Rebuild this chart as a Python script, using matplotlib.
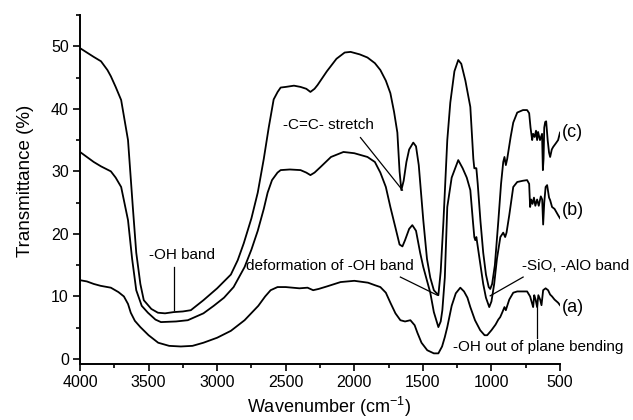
import numpy as np
import matplotlib.pyplot as plt
from matplotlib.ticker import MultipleLocator

plt.rcParams['font.family'] = ['Liberation Sans', 'DejaVu Sans']

# FTIR spectra (wavenumber in cm^-1, transmittance in %)
wn_a = [4000, 3950, 3900, 3850, 3775, 3720, 3680, 3650, 3630, 3600, 3560, 3500, 3430, 3350, 3265,
        3180, 3100, 3000, 2900, 2800, 2700, 2650, 2610, 2560, 2500, 2400, 2341, 2300, 2260, 2200,
        2100, 2000, 1900, 1850, 1810, 1770, 1737, 1700, 1664, 1630, 1591, 1560, 1540, 1510, 1468,
        1420, 1387, 1360, 1340, 1322, 1290, 1260, 1227, 1200, 1175, 1154, 1120, 1082, 1050, 1031,
        1000, 970, 950, 936, 920, 905, 895, 885, 870, 841, 812, 780, 740, 718, 705, 696, 688, 678,
        667, 658, 645, 635, 623, 605, 587, 572, 558, 540, 514, 500]
t_a = [12.6, 12.4, 12.0, 11.7, 11.4, 10.7, 10.0, 8.8, 7.4, 6.1, 5.1, 3.8, 2.6, 2.1, 2.0,
       2.1, 2.6, 3.4, 4.5, 6.2, 8.5, 10.0, 11.0, 11.5, 11.5, 11.3, 11.4, 11.0, 11.2, 11.6,
       12.3, 12.5, 12.2, 11.8, 11.5, 10.6, 9.0, 7.3, 6.2, 6.0, 6.2, 5.4, 4.2, 2.6, 1.4,
       0.9, 0.9, 2.0, 3.5, 5.1, 8.5, 10.5, 11.4, 10.8, 9.8, 8.3, 6.2, 4.6, 3.8, 3.8,
       4.6, 5.5, 6.3, 6.7, 7.5, 8.3, 7.8, 8.5, 9.5, 10.6, 10.8, 10.8, 10.8, 10.0, 9.0, 8.3, 10.2, 9.5,
       8.3, 10.2, 9.5, 8.6, 11.0, 11.3, 11.0, 10.3, 10.0, 9.5, 9.0, 8.6]

wn_b = [4000, 3950, 3900, 3847, 3775, 3740, 3700, 3650, 3620, 3590, 3550, 3505, 3450, 3410, 3300,
        3214, 3100, 3025, 2950, 2880, 2800, 2750, 2704, 2660, 2632, 2600, 2560, 2537, 2470, 2392,
        2350, 2320, 2290, 2246, 2170, 2079, 2000, 1904, 1850, 1810, 1770, 1737, 1700, 1670, 1649,
        1630, 1600, 1577, 1550, 1520, 1497, 1446, 1420, 1387, 1370, 1358, 1340, 1322, 1290, 1242,
        1210, 1180, 1154, 1135, 1125, 1118, 1110, 1100, 1080, 1060, 1040, 1016, 1000, 980, 960,
        935, 914, 900, 890, 870, 841, 812, 770, 740, 725, 718, 710, 700, 690, 680, 667, 655, 640,
        630, 623, 615, 605, 594, 580, 572, 558, 540, 514, 500]
t_b = [33.1, 32.3, 31.5, 30.8, 30.0, 29.0, 27.5, 22.2, 16.0, 11.0, 8.5, 7.4, 6.3, 5.9, 6.0,
       6.2, 7.3, 8.5, 9.8, 11.5, 14.7, 17.5, 20.5, 24.0, 26.6, 28.6, 29.8, 30.2, 30.3, 30.2,
       29.8, 29.4, 29.8, 30.7, 32.3, 33.1, 32.9, 32.3, 31.5, 29.8, 27.5, 24.3, 21.0, 18.3, 18.0,
       19.0, 20.8, 21.4, 20.5, 17.0, 14.7, 10.6, 7.5, 5.1, 6.0, 7.8, 13.0, 24.3, 29.0, 31.8,
       30.5, 29.0, 27.0, 22.0, 19.5, 19.0, 19.5, 18.0, 15.0, 12.0, 9.8, 8.3, 9.2, 12.0, 16.0,
       19.5, 20.2, 19.5, 20.2, 23.0, 27.5, 28.3, 28.5, 28.6, 28.0, 24.3, 25.5, 24.8, 25.8, 24.5, 25.5, 24.5, 26.0,
       25.5, 21.5, 25.0, 27.5, 27.8, 25.8, 25.4, 24.3, 24.0, 23.0, 22.5]

wn_c = [4000, 3950, 3900, 3847, 3800, 3775, 3740, 3700, 3650, 3615, 3590, 3560, 3535, 3480, 3432,
        3380, 3316, 3250, 3192, 3100, 3000, 2900, 2850, 2806, 2750, 2704, 2660, 2624, 2600, 2588,
        2559, 2537, 2500, 2440, 2392, 2350, 2320, 2290, 2268, 2200, 2130, 2070, 2027, 1960, 1904,
        1850, 1810, 1770, 1737, 1710, 1686, 1670, 1657, 1640, 1620, 1600, 1570, 1550, 1530, 1497,
        1470, 1446, 1420, 1387, 1370, 1350, 1322, 1300, 1270, 1242, 1220, 1190, 1154, 1132, 1125,
        1118, 1110, 1100, 1080, 1060, 1040, 1020, 1009, 995, 975, 950, 930, 914, 905, 895, 885,
        860, 841, 812, 770, 740, 725, 715, 703, 696, 685, 675, 667, 660, 646, 631, 625, 620, 615,
        608, 601, 590, 580, 572, 560, 550, 530, 514, 500]
t_c = [49.7, 49.0, 48.3, 47.6, 46.2, 45.2, 43.5, 41.4, 35.0, 24.3, 17.0, 12.0, 9.4, 8.0, 7.4,
       7.3, 7.5, 7.6, 7.8, 9.4, 11.3, 13.5, 15.8, 18.5, 22.5, 26.6, 32.0, 37.0, 40.0, 41.5,
       42.7, 43.4, 43.5, 43.7, 43.5, 43.2, 42.7, 43.2, 43.8, 46.0, 48.0, 49.0, 49.1, 48.7, 48.2,
       47.3, 46.2, 44.5, 42.5, 39.5, 36.2, 30.0, 27.0, 28.5, 31.5, 33.5, 34.6, 34.0, 31.0, 22.2,
       16.0, 13.0, 11.0, 10.2, 14.0, 22.0, 35.0, 41.0, 46.0, 47.8, 47.2, 44.5, 40.3, 32.0, 30.5,
       30.5, 30.5, 28.0, 22.0, 17.0, 13.5, 11.5, 11.2, 12.0, 15.0, 22.0, 28.0, 31.5, 32.3, 31.0, 32.0,
       35.5, 37.8, 39.4, 39.8, 39.8, 39.3, 37.0, 35.0, 36.0, 35.5, 36.5, 35.0, 36.3, 35.0, 36.0, 30.2, 32.0, 37.0,
       37.9, 38.0, 35.0, 33.0, 32.3, 33.5, 33.9, 34.5, 35.0, 36.2]

# curve labels: (text, x, y)
curve_labels = [('(a)', 490, 8.2), ('(b)', 490, 23.8), ('(c)', 490, 36.2)]

# annotations: text, text position, leader line start, leader line end, alignment
notes = [
    ('-OH band', (3254, 16.6), (3316, 14.7), (3316, 7.8), 'center'),
    ('-C=C- stretch', (2188, 37.4), (1955, 35.4), (1649, 27.0), 'center'),
    ('deformation of -OH band', (2180, 14.9), (1664, 13.1), (1395, 10.2), 'center'),
    ('-SiO, -AlO band', (775, 14.9), (769, 13.1), (1009, 10.1), 'left'),
    ('-OH out of plane bending', (659, 1.9), (667, 9.0), (667, 3.4), 'center'),
]

fig = plt.figure(figsize=(6.33, 4.2), dpi=100)
ax = fig.add_axes([0.1264, 0.1326, 0.7583, 0.8317])

for wn, t in [(wn_a, t_a), (wn_b, t_b), (wn_c, t_c)]:
    ax.plot(wn, t, color='black', linewidth=1.3)

for txt, x, y in curve_labels:
    ax.text(x, y, txt, fontsize=13, ha='left', va='center', clip_on=False)

for txt, (tx, ty), (x0, y0), (x1, y1), ha in notes:
    ax.text(tx, ty, txt, fontsize=11, ha=ha, va='center')
    ax.plot([x0, x1], [y0, y1], color='black', linewidth=0.9)

ax.set_xlim(4000, 500)
ax.set_ylim(-0.85, 55)
ax.xaxis.set_major_locator(MultipleLocator(500))
ax.xaxis.set_minor_locator(MultipleLocator(250))
ax.yaxis.set_major_locator(MultipleLocator(10))
ax.yaxis.set_minor_locator(MultipleLocator(5))
ax.tick_params(which='major', direction='out', length=5, width=1.2, labelsize=11.5, pad=3)
ax.tick_params(which='minor', direction='out', length=3, width=1.2)
ax.spines['top'].set_visible(False)
ax.spines['right'].set_visible(False)
ax.spines['left'].set_linewidth(1.4)
ax.spines['bottom'].set_linewidth(1.4)

ax.set_xlabel('Wavenumber (cm$^{\\mathregular{-1}}$)', fontsize=13, va='center')
ax.xaxis.set_label_coords(0.518, -0.122)
ax.set_ylabel('Transmittance (%)', fontsize=13.5, va='center')
ax.yaxis.set_label_coords(-0.113, 0.525)

plt.savefig('out.png', dpi=100)
